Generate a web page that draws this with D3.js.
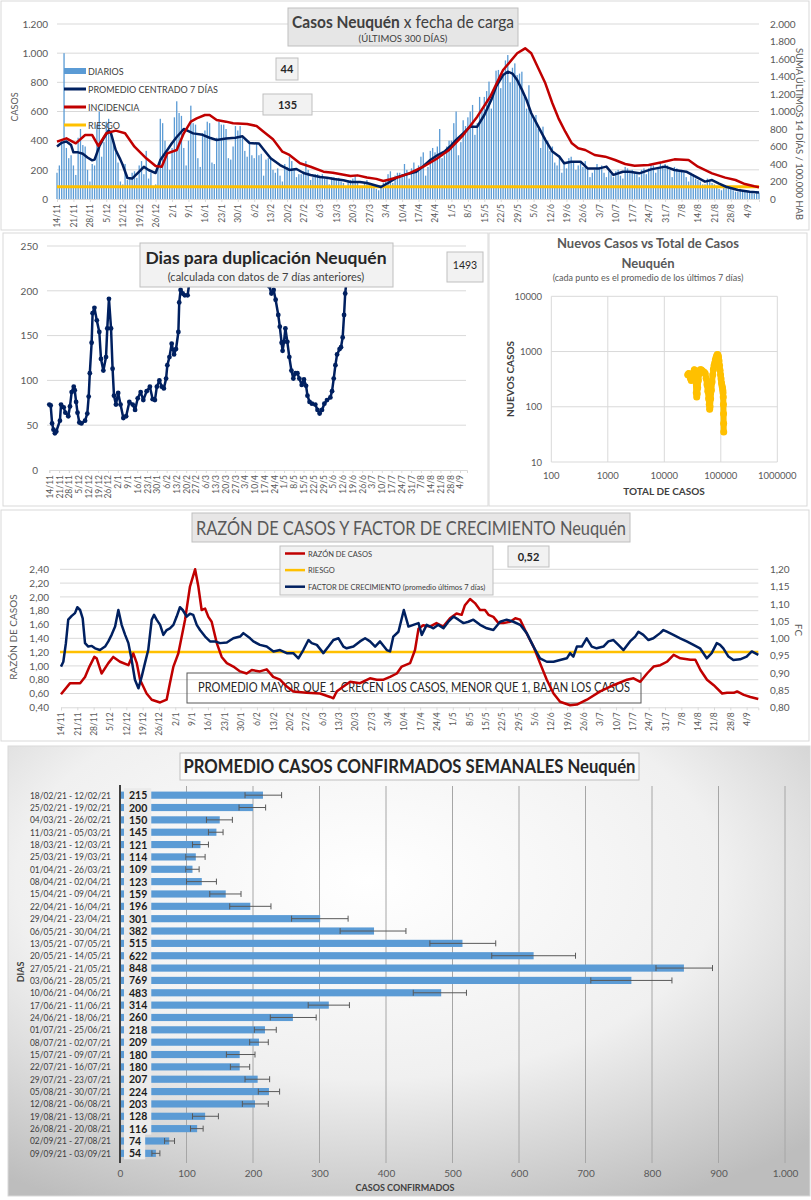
<!DOCTYPE html>
<meta charset="utf-8">
<style>
body { margin: 0; background: #fff; }
svg { display: block; font-family: Lato, "Open Sans", sans-serif; }
</style>
<body>
<script src="https://d3js.org/d3.v7.min.js"></script>
<script>

// dia 0 = 14/11/2020, 300 dias
var start = new Date(2020, 10, 14);

// casos diarios (barras), una semana por fila
var dailyCases = [
  180,230,400,1000,350,280,300,
  230,165,420,480,370,360,200,
  120,240,230,510,600,290,390,
  530,550,470,400,320,250,120,
  100,240,130,150,180,190,145,
  230,260,170,330,140,180,90,
  100,230,550,520,400,300,200,
  350,560,670,590,570,350,230,
  400,640,520,510,280,220,450,
  470,530,520,250,240,420,530,
  510,510,480,280,270,360,500,
  470,500,420,330,290,380,300,
  280,380,300,310,160,270,280,
  290,200,180,210,160,120,240,
  220,290,260,210,150,170,170,
  190,260,200,130,150,170,170,
  160,170,140,140,100,150,150,
  140,145,120,110,90,130,130,
  140,160,120,90,90,110,130,
  110,90,80,70,60,95,110,
  120,170,190,110,160,180,180,
  170,240,200,140,210,250,200,
  230,290,320,160,220,330,350,
  320,360,480,280,300,360,400,
  400,520,600,300,390,540,500,
  560,600,645,440,520,700,620,
  700,740,805,620,720,880,885,
  760,840,950,987,800,900,930,
  850,860,873,700,620,780,600,
  560,576,480,350,496,420,400,
  330,360,250,230,300,180,250,
  210,280,290,260,200,230,250,
  220,260,210,150,180,200,240,
  220,230,180,150,190,170,150,
  190,200,160,140,220,210,180,
  200,180,170,150,200,210,170,
  210,240,230,180,220,250,230,
  240,230,200,150,220,210,190,
  200,180,150,120,180,170,140,
  130,120,100,100,140,130,110,
  100,90,70,60,90,80,80,
  70,60,50,50,70,60,60,
  50,45,40,35,50,44
];

// [dia, promedio centrado 7 dias]
var promedio7 = [[0,360],[2,385],[4,395],[6,370],[7,320],[9,320],[11,310],[13,285],[15,265],[16,270],[18,360],[20,420],[22,470],[23,450],[25,336],[27,270],[28,233],[30,144],[32,140],[35,187],[37,221],[39,199],[42,178],[44,267],[47,336],[49,384],[51,425],[54,480],[56,465],[58,450],[62,440],[65,420],[68,405],[72,415],[76,420],[79,430],[82,384],[86,380],[88,340],[91,280],[95,233],[99,199],[102,206],[105,178],[108,165],[112,151],[115,145],[118,137],[122,128],[125,117],[129,117],[132,110],[135,96],[138,82],[141,110],[145,150],[149,170],[153,187],[156,225],[159,267],[162,300],[165,325],[168,370],[170,405],[173,450],[176,496],[179,496],[182,576],[185,680],[187,770],[190,850],[192,873],[194,860],[196,816],[198,750],[200,679],[202,588],[205,496],[208,405],[211,325],[214,290],[216,245],[219,256],[223,256],[226,210],[231,210],[234,222],[237,165],[241,187],[244,187],[248,176],[253,203],[259,222],[263,199],[268,187],[272,153],[276,119],[279,130],[282,105],[285,84],[290,62],[295,50],[299,44]];

// [dia, incidencia 14 dias / 100.000 hab]
var incidencia = [[0,655],[4,693],[8,636],[12,731],[15,731],[17.6,606],[21,751],[25,781],[29,751],[33,598],[38,465],[42,377],[44.6,369],[47,522],[51,560],[54,751],[57,884],[59.5,922],[63,960],[65,960],[68,903],[72,884],[75,865],[81,858],[85,834],[88,769],[92,682],[96,541],[99,503],[103.5,408],[108,369],[113.5,312],[117.5,301],[125,263],[128,270],[132,245],[136,230],[139,205],[142,225],[146,255],[150,293],[156,369],[162,465],[167,560],[173,731],[179,941],[184.5,1169],[190,1474],[196,1665],[199.4,1722],[202,1665],[205,1494],[208,1322],[211,1094],[213.6,922],[216.5,769],[219.3,636],[222,579],[225,560],[229,503],[233.5,484],[237.7,446],[242,400],[246,381],[252,389],[257.6,419],[263,453],[269,446],[273,369],[279,293],[284.6,244],[289,217],[293,171],[297,145],[299,135]];
var riesgoIncidencia = 140;

// [dia, dias para duplicacion]
var duplicacion = [[0,73],[1,72],[2,52],[3,45],[4,41],[5,43],[7.6,55],[8.4,73],[10.3,70],[11.5,64],[13.6,60],[14.8,71],[16,87],[17.5,93],[18.2,89],[19.2,76],[20.2,64],[21.5,53],[23,52],[25.6,55],[27.2,63],[28.2,82],[29,108],[30.3,142],[31,175],[32.3,181],[34,167],[35.8,154],[37,124],[38.7,111],[40.6,126],[41.5,158],[42.7,191],[44.2,158],[45.3,113],[46.3,83],[47.7,73],[49.3,86],[51,73],[53,58],[55,60],[57.3,76],[59.7,73],[61.4,67],[63.3,80],[65.4,87],[67.3,78],[69.7,88],[72,93],[74,79],[75.6,78],[77,93],[78.8,100],[80.5,93],[82,91],[83.6,102],[84.5,117],[86,126],[87.6,141],[89.3,129],[90.7,135],[92.4,154],[93,187],[94,201],[95.5,197],[97,195],[99,195],[100.7,214],[102,265],[156,265],[157.5,205],[159,197],[160.6,201],[162,190],[163.9,173],[165,160],[166.3,142],[167,133],[168,143],[169,158],[170.4,143],[171.8,126],[173.3,111],[174.7,102],[176.2,108],[177.6,108],[179,102],[180.7,95],[182.3,101],[183.8,94],[184.8,83],[186.3,76],[188,74],[190.4,73],[192,67],[193.5,63],[195.2,67],[196.9,74],[198.8,78],[201.2,81],[202.4,88],[203.6,102],[204.8,117],[206,129],[207.8,135],[208.8,137],[210,148],[211,173],[211.8,197],[213,214],[214,270],[299,1493]];

// nuevos casos vs total de casos
var scatterTotal = [26000,27000,28000,29000,30000,31000,32000,33000,34000,35000,36000,36800,37500,38200,39000,40000,41500,43000,45000,47000,49000,51000,53000,55000,57000,59000,61000,62500,63500,64500,66000,68000,70000,72000,74000,76000,78000,80000,82000,84000,86000,88000,89500,91000,93000,95000,97000,99000,101000,103000,105000,107000,108500,109500,110500,111200,111800,112300,112700];
var scatterNuevos = [380,400,370,330,300,320,360,420,470,440,300,180,150,170,220,300,400,470,470,450,430,420,400,330,250,190,140,110,90,100,140,200,280,380,480,560,620,700,760,820,870,880,850,790,680,560,460,380,320,270,240,220,200,180,150,110,75,50,35];

// [dia, razon de casos]
var razon = [[0,0.59],[3.9,0.75],[8.2,0.75],[10.3,0.84],[12.2,0.99],[14.3,1.13],[15.3,1.11],[17.4,0.89],[20.3,1.04],[22.4,1.13],[25.3,1.06],[28.9,1.01],[31,1.18],[32.5,1.04],[33.9,0.80],[36.7,0.60],[38.9,0.51],[42.5,0.47],[45.3,0.51],[46.7,0.75],[48.2,0.99],[50.3,1.18],[53.2,1.67],[55.3,2.15],[57.5,2.40],[58.9,2.15],[60.3,1.81],[61.8,1.83],[63.2,1.71],[64.6,1.64],[66.8,1.33],[68.9,1.13],[71.1,1.04],[73.9,0.99],[76.8,0.92],[79.6,0.89],[81.8,0.94],[85.3,0.92],[88.2,0.95],[91,0.84],[93.9,0.80],[96.8,0.70],[99.6,0.63],[105.3,0.61],[111.1,0.60],[115.4,0.55],[116.8,0.53],[118.2,0.63],[121.1,0.70],[124,0.77],[128.2,0.75],[132.5,0.82],[135.4,0.80],[138.3,0.80],[141.1,0.84],[144,0.89],[146.1,0.99],[149.7,1.04],[151.8,1.23],[153.3,1.54],[155.3,1.59],[158.2,1.57],[161,1.62],[163.9,1.57],[166.8,1.69],[169.6,1.76],[171.8,1.74],[173.2,1.88],[175.4,1.97],[177.5,1.91],[179.7,1.81],[181.8,1.81],[183.3,1.74],[185.4,1.71],[187.6,1.62],[189.7,1.62],[192.6,1.64],[194.8,1.69],[196.9,1.67],[199.7,1.47],[202.6,1.28],[205.4,1.04],[208.3,0.80],[211.2,0.60],[214,0.48],[218.3,0.43],[221.2,0.44],[225.5,0.51],[231.2,0.63],[236.9,0.72],[242.7,0.80],[245.5,0.82],[248.4,0.77],[251.3,0.89],[254.1,0.99],[257,1.01],[259.8,1.06],[262.7,1.16],[265.6,1.11],[269.9,1.09],[272,1.09],[274.2,0.94],[277,0.80],[279.9,0.72],[283.5,0.60],[285.6,0.61],[288.5,0.61],[289.9,0.63],[292.8,0.58],[295.6,0.55],[299,0.52]];
var riesgoRazon = 1.2;

// [dia, factor de crecimiento]
var factorCrec = [[0,0.918],[1,0.932],[2.1,0.986],[3.1,1.054],[4.6,1.065],[6,1.073],[7,1.090],[8.2,1.082],[9.3,1.058],[10.3,0.986],[11.7,0.976],[13.2,0.978],[14.6,0.971],[16.7,0.966],[18.9,0.976],[20.3,0.991],[21.7,1.010],[23.2,1.034],[24.6,1.082],[26,1.039],[27.5,1.010],[28.9,0.986],[30.3,0.937],[31.7,0.880],[33.2,0.855],[34.6,0.889],[36,0.928],[37.4,0.966],[38.9,1.054],[39.9,1.068],[41,1.054],[42.5,1.039],[43.9,1.010],[45.3,1.024],[46.7,1.029],[48.2,1.039],[49.6,1.063],[51,1.090],[52.2,1.082],[53.9,1.063],[55.3,1.071],[56.7,1.068],[58.2,1.039],[59.6,1.024],[61.8,1.005],[63.9,0.991],[66.1,0.991],[68.2,0.986],[71.1,0.988],[73.9,1.000],[76.8,1.005],[78.2,1.015],[81.1,1.000],[82.5,0.991],[85.3,0.981],[88.2,0.976],[91.1,0.962],[93.9,0.966],[96.8,0.957],[99.6,0.957],[101.8,0.942],[103.9,0.966],[106.1,0.995],[107.5,0.986],[109.7,0.981],[112.5,0.957],[114.7,0.976],[116.8,0.995],[119,1.000],[121.1,0.976],[122.5,0.971],[125.4,0.976],[128.2,0.991],[130.4,1.000],[132.5,0.991],[134.7,0.976],[136.8,0.991],[139.7,0.966],[141.1,0.962],[142.5,1.005],[144.7,1.019],[147,1.082],[149,1.034],[151.1,1.039],[153.3,1.044],[154.7,1.010],[156.8,1.039],[159.7,1.029],[161.8,1.039],[164,1.029],[166.1,1.048],[168.3,1.063],[170.4,1.054],[172.6,1.044],[174.7,1.048],[176.8,1.054],[179.7,1.039],[182.6,1.029],[185.4,1.024],[188.3,1.048],[191.1,1.054],[194,1.048],[196.9,1.039],[199.7,1.015],[202.6,0.976],[205.4,0.942],[208.3,0.932],[211.2,0.932],[214,0.937],[216.9,0.942],[218.3,0.957],[219.7,0.947],[221.2,0.976],[223.3,0.976],[225.4,1.000],[227.6,0.976],[229.7,0.971],[232.6,0.976],[234.7,0.991],[236.9,0.995],[239,0.981],[241.2,0.966],[244,0.991],[246.2,1.005],[247.6,1.019],[249.7,1.010],[251.9,0.995],[254,1.000],[256.9,1.015],[258.3,1.024],[259.8,1.019],[262.6,1.010],[265.5,1.000],[268.3,0.991],[271.2,0.981],[274,0.971],[276.9,0.942],[279,0.957],[281.2,0.986],[282.6,0.981],[284,0.971],[286.2,0.947],[288.3,0.937],[291.2,0.939],[294,0.947],[296.2,0.962],[297.6,0.957],[299,0.952]];

// promedio semanal
var weekLabels = ["18/02/21 - 12/02/21","25/02/21 - 19/02/21","04/03/21 - 26/02/21","11/03/21 - 05/03/21","18/03/21 - 12/03/21","25/03/21 - 19/03/21","01/04/21 - 26/03/21","08/04/21 - 02/04/21","15/04/21 - 09/04/21","22/04/21 - 16/04/21","29/04/21 - 23/04/21","06/05/21 - 30/04/21","13/05/21 - 07/05/21","20/05/21 - 14/05/21","27/05/21 - 21/05/21","03/06/21 - 28/05/21","10/06/21 - 04/06/21","17/06/21 - 11/06/21","24/06/21 - 18/06/21","01/07/21 - 25/06/21","08/07/21 - 02/07/21","15/07/21 - 09/07/21","22/07/21 - 16/07/21","29/07/21 - 23/07/21","05/08/21 - 30/07/21","12/08/21 - 06/08/21","19/08/21 - 13/08/21","26/08/21 - 20/08/21","02/09/21 - 27/08/21","09/09/21 - 03/09/21"];
var weekAvg = [215,200,150,145,121,114,109,123,159,196,301,382,515,622,848,769,483,314,260,218,209,180,180,207,224,203,128,116,74,54];
var errLow = [188,179,130,133,109,99,99,100,135,165,258,331,466,559,806,708,441,283,226,202,195,160,166,188,208,184,109,106,67,48];
var errHigh = [243,219,169,155,133,128,119,145,182,227,343,430,565,685,891,830,521,345,295,235,223,203,195,225,240,223,148,125,82,60];

var locale = d3.formatLocale({decimal: ",", thousands: ".", grouping: [3], currency: ["$", ""]});
var fmtInt = locale.format(","),
    fmt2 = locale.format(".2f"),
    fmtDay = d3.timeFormat("%-d/%-m");

function day(d) { return d3.timeDay.offset(start, Math.floor(d)).getTime() + (d % 1) * 864e5; }
var weekTicks = d3.range(0, 300, 7).map(function(d) { return new Date(day(d)); });

var svg = d3.select("body").append("svg")
    .attr("width", 811)
    .attr("height", 1200);

var defs = svg.append("defs");

function frame(x, y, w, h, fill) {
  svg.append("rect").attr("x", x).attr("y", y).attr("width", w).attr("height", h)
      .attr("fill", fill || "#fff").attr("stroke", "#d9d9d9");
}

function box(x, y, w, h, fill, stroke) {
  return svg.append("rect").attr("x", x).attr("y", y).attr("width", w).attr("height", h)
      .attr("fill", fill).attr("stroke", stroke || "#bfbfbf");
}

function label(x, y, txt, size, opts) {
  opts = opts || {};
  var t = svg.append("text").attr("x", x).attr("y", y).text(txt)
      .attr("font-size", size)
      .attr("fill", opts.fill || "#595959")
      .attr("text-anchor", opts.anchor || "middle")
      .attr("font-weight", opts.weight || "normal");
  if (opts.rotate) t.attr("transform", "rotate(" + opts.rotate + "," + x + "," + y + ")");
  if (opts.len) t.attr("textLength", opts.len).attr("lengthAdjust", "spacingAndGlyphs");
  return t;
}

function dateAxis(x, y0) {
  var g = svg.append("g").attr("transform", "translate(0," + y0 + ")")
      .call(d3.axisBottom(x).tickValues(weekTicks).tickFormat(fmtDay).tickSize(3));
  g.attr("font-family", null).attr("font-size", null);
  g.select(".domain").attr("stroke", "#d9d9d9");
  g.selectAll(".tick line").attr("stroke", "#d9d9d9");
  g.selectAll(".tick text")
      .attr("transform", "rotate(-90)")
      .attr("x", -5).attr("y", 0).attr("dy", "0.35em")
      .attr("text-anchor", "end")
      .attr("font-size", 8.5)
      .attr("fill", "#595959");
  return g;
}

function valueAxis(scale, xPos, ticks, fmt, right) {
  var ax = right ? d3.axisRight(scale) : d3.axisLeft(scale);
  var g = svg.append("g").attr("transform", "translate(" + xPos + ",0)")
      .call(ax.tickValues(ticks).tickFormat(fmt).tickSize(0).tickPadding(0));
  g.attr("font-family", null).attr("font-size", null);
  g.select(".domain").remove();
  g.selectAll(".tick text").attr("font-size", 10).attr("fill", "#595959");
  return g;
}

function grid(scale, ticks, x0, x1) {
  svg.append("g").selectAll("line").data(ticks).join("line")
      .attr("x1", x0).attr("x2", x1)
      .attr("y1", function(d) { return scale(d); })
      .attr("y2", function(d) { return scale(d); })
      .attr("stroke", "#d9d9d9");
}

/* ---------- 1. Casos diarios ---------- */
frame(1, 1, 808, 229);

var x1 = d3.scaleTime().domain([day(0), day(299)]).range([57, 759]),
    yL1 = d3.scaleLinear().domain([0, 1200]).range([199, 24]),
    yR1 = d3.scaleLinear().domain([0, 2000]).range([199, 24]);

grid(yL1, d3.range(200, 1201, 200), 57, 759);

svg.append("g").selectAll("rect").data(dailyCases).join("rect")
    .attr("x", function(d, i) { return x1(day(i)) - 0.65; })
    .attr("width", 1.3)
    .attr("y", function(d) { return yL1(d); })
    .attr("height", function(d) { return yL1(0) - yL1(d); })
    .attr("fill", "#5b9bd5");

dateAxis(x1, 199);
valueAxis(yL1, 48, d3.range(0, 1201, 200), fmtInt);
valueAxis(yR1, 770, d3.range(0, 2001, 200), fmtInt, true);

svg.append("line")
    .attr("x1", 57).attr("x2", 759)
    .attr("y1", yR1(riesgoIncidencia)).attr("y2", yR1(riesgoIncidencia))
    .attr("stroke", "#ffc000").attr("stroke-width", 3);

svg.append("path").datum(promedio7)
    .attr("fill", "none").attr("stroke", "#002060").attr("stroke-width", 2.5)
    .attr("stroke-linejoin", "round")
    .attr("d", d3.line().x(function(d) { return x1(day(d[0])); }).y(function(d) { return yL1(d[1]); }));

svg.append("path").datum(incidencia)
    .attr("fill", "none").attr("stroke", "#c00000").attr("stroke-width", 2.5)
    .attr("stroke-linejoin", "round")
    .attr("d", d3.line().x(function(d) { return x1(day(d[0])); }).y(function(d) { return yR1(d[1]); }));

label(18, 107, "CASOS", 9, {rotate: -90});
label(796, 134, "SUMA  ÚLTIMOS 14 DÍAS / 100.000 HAB", 9.5, {rotate: 90, len: 172});

box(288, 8, 230, 38, "#e6e6e6");
var t1 = label(403, 28, "", 17, {fill: "#404040", len: 222});
t1.append("tspan").attr("font-weight", "bold").text("Casos  Neuquén");
t1.append("tspan").text(" x fecha  de carga");
label(403, 42, "(ÚLTIMOS 300 DÍAS)", 9.5, {fill: "#404040"});

var legend1 = [
  {name: "DIARIOS", color: "#5b9bd5", bar: true},
  {name: "PROMEDIO CENTRADO 7 DÍAS", color: "#002060"},
  {name: "INCIDENCIA", color: "#c00000"},
  {name: "RIESGO", color: "#ffc000"}
];
legend1.forEach(function(d, i) {
  var y = 71 + i * 18;
  if (d.bar) box(64, y - 3, 22, 6, d.color, "none");
  else svg.append("line").attr("x1", 64).attr("x2", 86).attr("y1", y).attr("y2", y)
      .attr("stroke", d.color).attr("stroke-width", 3);
  label(88, y + 3.5, d.name, 9, {anchor: "start", fill: "#404040"});
});

box(276, 58, 22, 22, "#f2f2f2");
label(287, 73, promedio7[promedio7.length - 1][1], 11, {weight: "bold", fill: "#262626"});
box(263, 94, 49, 21, "#f2f2f2");
label(287.5, 109, incidencia[incidencia.length - 1][1], 11, {weight: "bold", fill: "#262626"});

/* ---------- 2. Dias para duplicacion ---------- */
frame(3, 233, 485, 273);

var x2 = d3.scaleTime().domain([day(0), day(299)]).range([49.3, 467]),
    y2 = d3.scaleLinear().domain([0, 250]).range([470, 246]);

grid(y2, d3.range(50, 251, 50), 47, 466);
dateAxis(x2, 470);
valueAxis(y2, 38, d3.range(0, 251, 50), d3.format("d"));

defs.append("clipPath").attr("id", "clip2")
  .append("rect").attr("x", 40).attr("y", 246).attr("width", 430).attr("height", 226);

var dupG = svg.append("g").attr("clip-path", "url(#clip2)");
dupG.append("path").datum(duplicacion)
    .attr("fill", "none").attr("stroke", "#002060").attr("stroke-width", 2.5)
    .attr("stroke-linejoin", "round")
    .attr("d", d3.line().x(function(d) { return x2(day(d[0])); }).y(function(d) { return y2(d[1]); }));
dupG.selectAll("circle").data(duplicacion).join("circle")
    .attr("cx", function(d) { return x2(day(d[0])); })
    .attr("cy", function(d) { return y2(d[1]); })
    .attr("r", 2.4)
    .attr("fill", "#002060");

box(140, 243, 253, 44, "#f2f2f2");
label(266, 264, "Dias para duplicación Neuquén", 17.5, {weight: "bold", fill: "#262626"});
label(266, 281, "(calculada con datos de 7 días anteriores)", 11, {fill: "#404040"});
box(447, 252, 36, 30, "#f2f2f2");
label(465, 269, duplicacion[duplicacion.length - 1][1], 10.5, {fill: "#262626"});

/* ---------- 3. Nuevos casos vs total ---------- */
frame(489, 233, 318, 273);

var xs = d3.scaleLog().domain([100, 1e6]).range([551.3, 777.3]),
    ys = d3.scaleLog().domain([10, 1e4]).range([462, 296.3]);

svg.append("g").selectAll("line").data([100, 1e3, 1e4, 1e5, 1e6]).join("line")
    .attr("x1", function(d) { return xs(d); }).attr("x2", function(d) { return xs(d); })
    .attr("y1", 296.3).attr("y2", 462)
    .attr("stroke", "#d9d9d9");
grid(ys, [10, 100, 1000, 10000], 551.3, 777.3);

svg.append("g").selectAll("text").data([100, 1e3, 1e4, 1e5, 1e6]).join("text")
    .attr("x", function(d) { return xs(d); }).attr("y", 479)
    .attr("text-anchor", "middle").attr("font-size", 9.5).attr("fill", "#595959")
    .text(d3.format("d"));
svg.append("g").selectAll("text").data([10, 100, 1000, 10000]).join("text")
    .attr("x", 542).attr("y", function(d) { return ys(d) + 3.5; })
    .attr("text-anchor", "end").attr("font-size", 9.5).attr("fill", "#595959")
    .text(d3.format("d"));

var scat = scatterTotal.map(function(t, i) { return [t, scatterNuevos[i]]; });
svg.append("path").datum(scat)
    .attr("fill", "none").attr("stroke", "#ffc000").attr("stroke-width", 6)
    .attr("stroke-linejoin", "round").attr("stroke-linecap", "round")
    .attr("d", d3.line().x(function(d) { return xs(d[0]); }).y(function(d) { return ys(d[1]); }));
svg.append("g").selectAll("circle").data(scat).join("circle")
    .attr("cx", function(d) { return xs(d[0]); })
    .attr("cy", function(d) { return ys(d[1]); })
    .attr("r", 3.5)
    .attr("fill", "#ffc000");

label(648, 248, "Nuevos Casos vs Total de Casos", 13, {weight: "bold"});
label(648, 268, "Neuquén", 13, {weight: "bold"});
label(648, 281, "(cada punto es el promedio de los últimos 7 días)", 9, {});
label(664, 495, "TOTAL DE CASOS", 10, {weight: "bold", fill: "#404040"});
label(514, 379, "NUEVOS CASOS", 10, {weight: "bold", fill: "#404040", rotate: -90});

/* ---------- 4. Razon de casos y factor de crecimiento ---------- */
frame(1, 510, 808, 231);

var x4 = d3.scaleTime().domain([day(0), day(299)]).range([61, 758.3]),
    yL4 = d3.scaleLinear().domain([0.4, 2.4]).range([707.3, 569.3]),
    yR4 = d3.scaleLinear().domain([0.8, 1.2]).range([707.3, 569.3]);

grid(yL4, d3.range(0.6, 2.41, 0.2), 60, 758.3);
dateAxis(x4, 707.3);
valueAxis(yL4, 49, d3.range(0.4, 2.41, 0.2), fmt2);
valueAxis(yR4, 770, d3.range(0.8, 1.201, 0.05), fmt2, true);

box(187, 673, 454, 30, "none", "#595959");
label(414, 692, "PROMEDIO MAYOR QUE 1, CRECEN LOS CASOS, MENOR QUE 1, BAJAN LOS CASOS", 12.5, {fill: "#262626", len: 432});

svg.append("line")
    .attr("x1", 60).attr("x2", 758.3)
    .attr("y1", yL4(riesgoRazon)).attr("y2", yL4(riesgoRazon))
    .attr("stroke", "#ffc000").attr("stroke-width", 2.5);

svg.append("path").datum(razon)
    .attr("fill", "none").attr("stroke", "#c00000").attr("stroke-width", 2.5)
    .attr("stroke-linejoin", "round")
    .attr("d", d3.line().x(function(d) { return x4(day(d[0])); }).y(function(d) { return yL4(d[1]); }));
svg.append("path").datum(factorCrec)
    .attr("fill", "none").attr("stroke", "#002060").attr("stroke-width", 2.5)
    .attr("stroke-linejoin", "round")
    .attr("d", d3.line().x(function(d) { return x4(day(d[0])); }).y(function(d) { return yR4(d[1]); }));

label(17, 637, "RAZÓN DE CASOS", 10, {rotate: -90});
label(795, 630, "FC", 10, {rotate: 90});

box(192, 513, 438, 29, "#e7e6e6");
label(411, 535, "RAZÓN DE CASOS Y FACTOR DE CRECIMIENTO Neuquén", 19.5, {len: 430});

box(280, 546, 213, 49, "#f2f2f2");
[["RAZÓN DE CASOS", "#c00000"], ["RIESGO", "#ffc000"],
 ["FACTOR DE CRECIMIENTO (promedio últimos 7 días)", "#002060"]].forEach(function(d, i) {
  var y = 553.5 + i * 16.6;
  svg.append("line").attr("x1", 285).attr("x2", 305).attr("y1", y).attr("y2", y)
      .attr("stroke", d[1]).attr("stroke-width", 2.5);
  label(308, y + 3, d[0], 7.5, {anchor: "start", fill: "#404040"});
});

box(508, 546, 41, 21, "#f2f2f2");
label(528.5, 560.5, fmt2(razon[razon.length - 1][1]), 11, {weight: "bold", fill: "#262626"});

/* ---------- 5. Promedio casos confirmados semanales ---------- */
var bg = defs.append("radialGradient").attr("id", "bg5")
    .attr("cx", "45%").attr("cy", "30%").attr("r", "80%");
bg.append("stop").attr("offset", "0%").attr("stop-color", "#ffffff");
bg.append("stop").attr("offset", "55%").attr("stop-color", "#f0f0f0");
bg.append("stop").attr("offset", "100%").attr("stop-color", "#bdbdbd");
frame(8, 746, 802, 450, "url(#bg5)");

var x5 = d3.scaleLinear().domain([0, 1000]).range([120, 785]),
    y5 = d3.scaleBand().domain(weekLabels).range([786.4, 1162.1]).padding(0.42);

svg.append("g").selectAll("line").data(d3.range(100, 1001, 100)).join("line")
    .attr("x1", function(d) { return x5(d); }).attr("x2", function(d) { return x5(d); })
    .attr("y1", 786).attr("y2", 1163)
    .attr("stroke", "#a6a6a6");

var ax5 = svg.append("g").attr("transform", "translate(0,1163)")
    .call(d3.axisBottom(x5).tickValues(d3.range(0, 1001, 100)).tickFormat(fmtInt).tickSize(0).tickPadding(7));
ax5.attr("font-family", null).attr("font-size", null);
ax5.select(".domain").remove();
ax5.selectAll(".tick text").attr("font-size", 10).attr("fill", "#595959");

var rows = svg.append("g").selectAll("g").data(weekAvg).join("g")
    .attr("transform", function(d, i) { return "translate(0," + y5(weekLabels[i]) + ")"; });
var bh = y5.bandwidth();

rows.append("rect")
    .attr("x", x5(0)).attr("y", 0)
    .attr("width", function(d) { return x5(d) - x5(0); })
    .attr("height", bh)
    .attr("fill", "#5b9bd5");

rows.each(function(d, i) {
  var g = d3.select(this),
      lo = x5(errLow[i]), hi = x5(errHigh[i]), mid = bh / 2;
  g.append("line").attr("x1", lo).attr("x2", hi).attr("y1", mid).attr("y2", mid)
      .attr("stroke", "#595959").attr("stroke-width", 1);
  [lo, hi].forEach(function(x) {
    g.append("line").attr("x1", x).attr("x2", x).attr("y1", mid - 3).attr("y2", mid + 3)
        .attr("stroke", "#595959").attr("stroke-width", 1);
  });
  var bgRect = g.append("rect").attr("fill", "#ebebeb");
  var t = g.append("text").attr("x", 129).attr("y", mid + 4)
      .attr("font-size", 10.5).attr("font-weight", "bold").attr("fill", "#1a1a1a")
      .text(d);
  var w = t.node().getComputedTextLength();
  bgRect.attr("x", 124).attr("y", mid - 7).attr("width", w + 9).attr("height", 13);
  g.append("text").attr("x", 111).attr("y", mid + 3.5)
      .attr("text-anchor", "end").attr("font-size", 10).attr("fill", "#404040")
      .attr("textLength", 81).attr("lengthAdjust", "spacingAndGlyphs")
      .text(weekLabels[i]);
});

svg.append("line").attr("x1", 120).attr("x2", 120).attr("y1", 785).attr("y2", 1163)
    .attr("stroke", "#404040").attr("stroke-width", 2);

box(180, 753, 459, 27, "rgba(255,255,255,0.6)", "#bfbfbf");
label(409.5, 773, "PROMEDIO CASOS CONFIRMADOS SEMANALES Neuquén", 18, {weight: "bold", fill: "#262626", len: 452});
label(405, 1191, "CASOS CONFIRMADOS", 9, {weight: "bold", fill: "#404040"});
label(24, 972, "DIAS", 9, {weight: "bold", fill: "#404040", rotate: -90});

</script>
